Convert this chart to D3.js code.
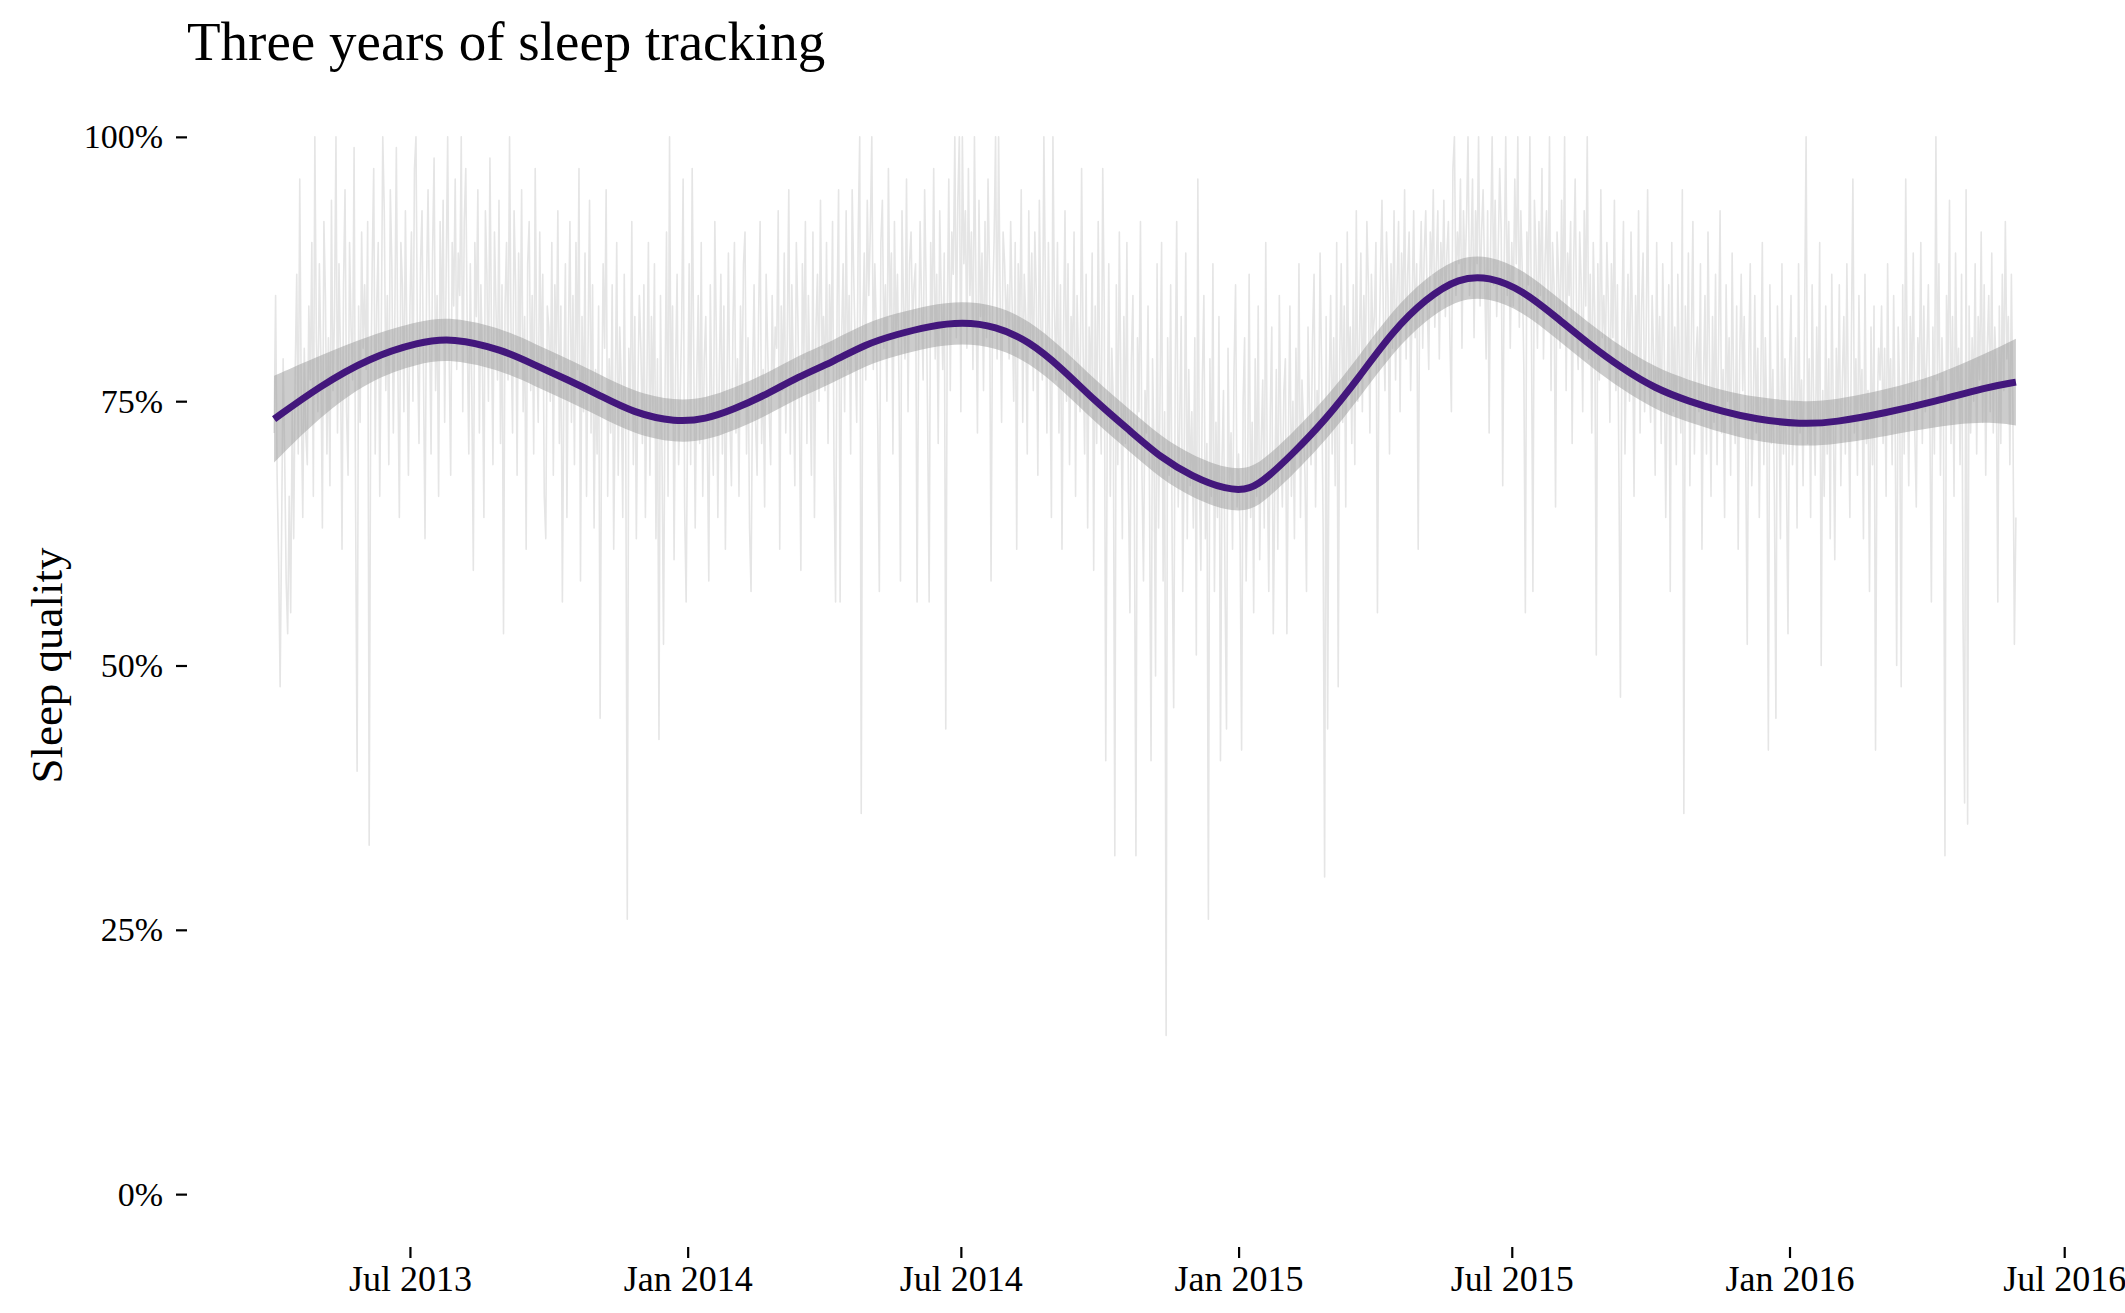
<!DOCTYPE html>
<html>
<head>
<meta charset="utf-8">
<title>Three years of sleep tracking</title>
<script src="https://cdn.jsdelivr.net/npm/d3@7"></script>
<style>
    body { margin: 0; background: #fff; }
    svg { display: block; font-family: "Liberation Serif", "DejaVu Serif", serif; }
</style>
</head>
<body>
<svg id="chart"></svg>
<script>
// nightly sleep quality (%), one value per night, one array per year
const sleep2013Start = '2013-04-02'
const sleep2013 = [
    72, 85, 68, 60, 48, 63, 79, 70, 58, 53, 66, 55, 74, 62, 78, 87, 70, 96, 75, 64, 80, 72, 69, 84, 77, 90, 66, 100, 81, // apr
    74, 88, 79, 63, 92, 85, 70, 81, 67, 94, 76, 83, 100, 72, 88, 79, 61, 86, 95, 74, 68, 90, 82, 77, 99, 65, 40, 84, 73, 91, 80, // may
    86, 78, 92, 33, 75, 88, 97, 70, 84, 90, 66, 81, 100, 93, 76, 85, 69, 95, 88, 72, 83, 99, 78, 64, 90, 86, 74, 93, 81, 68, // jun
    84, 91, 75, 97, 100, 80, 71, 88, 93, 77, 62, 86, 95, 82, 70, 89, 98, 76, 85, 66, 92, 81, 94, 73, 87, 100, 79, 68, 90, 84, 96, // jul
    78, 89, 85, 100, 74, 92, 97, 81, 70, 88, 76, 59, 90, 83, 95, 72, 86, 79, 64, 93, 87, 75, 98, 82, 69, 91, 84, 77, 94, 71, 86, // aug
    53, 84, 90, 77, 100, 81, 72, 93, 86, 68, 89, 79, 95, 74, 83, 61, 88, 92, 76, 85, 70, 97, 80, 73, 91, 78, 87, 66, 62, 84, // sep
    82, 75, 90, 68, 86, 79, 93, 71, 84, 56, 77, 88, 64, 81, 92, 73, 85, 69, 90, 78, 97, 58, 83, 74, 89, 66, 80, 94, 72, 86, 63, // oct
    78, 70, 84, 45, 73, 88, 80, 95, 66, 79, 72, 86, 61, 75, 90, 68, 82, 77, 64, 87, 71, 26, 80, 74, 92, 69, 83, 62, 76, 85, // nov
    80, 71, 86, 64, 77, 90, 68, 83, 74, 88, 62, 79, 43, 85, 70, 52, 76, 91, 66, 100, 73, 84, 60, 78, 87, 69, 75, 82, 96, 65, 56 // dec
]

const sleep2014Start = '2014-01-01'
const sleep2014 = [
    74, 88, 69, 97, 80, 63, 77, 85, 71, 90, 66, 79, 83, 72, 58, 86, 75, 68, 92, 81, 64, 78, 87, 70, 84, 61, 76, 89, 73, 67, 82,
    90, 72, 79, 66, 84, 75, 88, 91, 70, 81, 63, 57, 77, 86, 73, 68, 83, 92, 71, 78, 65, 87, 80, 74, 69, 85, 76, 82,
    80, 93, 61, 84, 76, 89, 72, 81, 95, 70, 86, 78, 67, 90, 83, 74, 59, 88, 79, 92, 71, 85, 77, 68, 91, 64, 82, 87, 75, 94, 80,
    83, 76, 90, 71, 86, 79, 92, 68, 56, 84, 95, 56, 81, 88, 74, 93, 78, 85, 70, 95, 87, 80, 73, 91, 100, 36, 82, 89, 77, 94,
    85, 91, 100, 78, 88, 82, 72, 57, 90, 94, 80, 86, 75, 97, 83, 89, 70, 92, 81, 87, 77, 58, 93, 84, 79, 96, 74, 88, 91, 82, 86,
    88, 56, 80, 92, 84, 77, 95, 86, 73, 56, 90, 82, 97, 79, 87, 71, 93, 85, 78, 89, 44, 83, 96, 76, 91, 87, 100, 81, 94, 100,
    74, 100, 88, 93, 80, 97, 85, 91, 78, 100, 86, 72, 94, 83, 89, 76, 92, 81, 96, 87, 58, 84, 90, 100, 79, 100, 85, 73, 91, 88, 82,
    86, 79, 92, 84, 75, 90, 61, 88, 81, 95, 73, 87, 83, 70, 93, 80, 89, 76, 91, 85, 68, 94, 82, 77, 100, 86, 72, 90, 79, 64, 100,
    84, 77, 90, 72, 86, 61, 81, 93, 75, 88, 69, 83, 79, 91, 66, 85, 78, 74, 97, 80, 70, 87, 63, 82, 76, 89, 59, 84, 71, 92,
    78, 70, 97, 84, 41, 73, 88, 66, 80, 75, 32, 86, 69, 91, 77, 62, 83, 71, 90, 67, 55, 79, 85, 64, 32, 81, 74, 92, 68, 58, 76,
    72, 84, 66, 41, 79, 70, 49, 88, 63, 76, 90, 58, 74, 15, 81, 68, 86, 61, 46, 77, 92, 65, 73, 83, 57, 70, 89, 62, 78, 67,
    74, 63, 81, 51, 96, 68, 59, 77, 85, 62, 71, 26, 79, 66, 88, 57, 73, 64, 83, 41, 69, 76, 58, 44, 80, 67, 72, 61, 78, 86, 65
]

const sleep2015Start = '2015-01-01'
const sleep2015 = [
    70, 62, 42, 75, 81, 58, 68, 87, 64, 73, 55, 79, 66, 84, 60, 71, 77, 63, 90, 69, 57, 74, 82, 53, 67, 78, 61, 85, 72, 65, 76,
    79, 53, 71, 84, 66, 75, 62, 80, 70, 88, 64, 77, 73, 68, 57, 82, 74, 69, 81, 87, 65, 76, 72, 89, 78, 63, 30, 83,
    44, 76, 85, 70, 81, 67, 90, 48, 79, 88, 73, 84, 65, 91, 77, 82, 71, 86, 69, 93, 75, 80, 89, 74, 85, 78, 92, 86, 72, 87, 81,
    83, 90, 55, 79, 87, 94, 82, 76, 91, 85, 70, 88, 80, 93, 77, 86, 92, 74, 89, 83, 95, 79, 87, 91, 76, 84, 93, 81, 88, 61,
    86, 92, 80, 89, 93, 84, 78, 91, 87, 95, 82, 88, 93, 79, 90, 86, 94, 83, 89, 92, 81, 74, 97, 100, 85, 91, 88, 96, 80, 93, 87,
    92, 100, 85, 89, 96, 81, 93, 88, 100, 84, 91, 95, 87, 79, 93, 72, 90, 100, 86, 94, 83, 89, 97, 91, 67, 88, 100, 85, 92, 80,
    90, 84, 96, 88, 100, 82, 93, 87, 78, 55, 91, 86, 100, 83, 57, 94, 89, 80, 92, 85, 97, 79, 88, 93, 84, 100, 76, 90, 86, 65, 91,
    87, 80, 94, 83, 100, 76, 89, 85, 92, 71, 88, 96, 82, 78, 91, 86, 74, 93, 84, 100, 79, 87, 72, 90, 83, 51, 88, 77, 95, 81, 85,
    79, 90, 84, 73, 88, 81, 94, 76, 86, 68, 47, 83, 92, 70, 80, 87, 75, 91, 82, 66, 85, 78, 93, 72, 84, 89, 74, 81, 95, 77,
    73, 85, 79, 68, 90, 76, 83, 71, 88, 80, 64, 77, 86, 57, 90, 74, 82, 69, 87, 78, 72, 95, 36, 84, 75, 89, 67, 81, 92, 70, 79,
    82, 74, 88, 61, 77, 85, 70, 91, 79, 66, 83, 73, 87, 69, 80, 93, 72, 78, 64, 86, 75, 81, 68, 89, 76, 71, 84, 61, 79, 87,
    76, 83, 70, 52, 79, 88, 67, 74, 85, 72, 80, 64, 77, 90, 69, 81, 73, 42, 86, 71, 78, 66, 45, 84, 75, 62, 88, 70, 79, 68, 53
]

const sleep2016Start = '2016-01-01'
const sleep2016 = [
    78, 85, 69, 74, 81, 63, 88, 72, 77, 67, 83, 100, 71, 79, 64, 86, 75, 68, 82, 73, 90, 50, 76, 66, 84, 70, 79, 62, 87, 74, 60,
    80, 73, 86, 67, 77, 83, 70, 88, 75, 64, 81, 96, 72, 79, 68, 85, 74, 78, 62, 87, 71, 76, 57, 82, 69, 84, 42, 73, 80,
    77, 84, 71, 80, 66, 88, 74, 79, 69, 85, 73, 50, 82, 76, 48, 86, 70, 96, 78, 67, 83, 75, 89, 72, 65, 81, 77, 90, 71, 84, 74,
    79, 86, 73, 56, 82, 70, 100, 77, 88, 68, 81, 74, 32, 85, 78, 94, 71, 83, 66, 89, 76, 80, 69, 87, 54, 37, 95, 35, 84, 72,
    81, 75, 88, 70, 83, 77, 91, 73, 86, 68, 80, 85, 74, 89, 72, 82, 78, 56, 84, 71, 87, 76, 92, 79, 83, 69, 87, 74, 52, 64
]

// smoothed trend with its confidence band (days after sleep2013Start)
const fitDay = [0, 30, 63, 96, 118, 151, 173, 195, 215, 238, 266, 286, 304, 326, 347, 370, 392, 412, 434, 456, 478, 500,
    522, 544, 567, 588, 608, 631, 647, 659, 674, 697, 719, 741, 763, 785, 805, 827, 849, 871, 893, 915, 937, 960,
    981, 1012, 1034, 1068, 1101, 1134, 1154]
const fitValue = [73.3, 76.4, 79.1, 80.6, 81.0, 79.9, 78.4, 77.0, 75.6, 73.9, 73.0, 73.3, 74.2, 75.6, 77.3, 78.7, 80.4, 81.3, 82.1, 82.5, 82.1, 80.7,
    78.1, 75.0, 72.2, 69.6, 67.9, 66.6, 66.6, 67.9, 69.9, 73.3, 77.3, 81.6, 84.7, 86.7, 86.8, 85.5, 83.0, 80.4, 78.1, 76.2, 75.0, 74.0,
    73.3, 72.8, 73.0, 73.9, 75.0, 76.3, 76.8]
const fitLower = [69.2, 73.5, 77.0, 78.6, 79.0, 77.9, 76.4, 75.0, 73.6, 71.9, 71.0, 71.3, 72.2, 73.6, 75.3, 76.7, 78.4, 79.3, 80.1, 80.5, 80.1, 78.7,
    76.1, 73.0, 70.2, 67.6, 65.9, 64.6, 64.6, 65.9, 67.9, 71.3, 75.3, 79.6, 82.7, 84.7, 84.8, 83.5, 81.0, 78.4, 76.1, 74.2, 73.0, 72.0,
    71.2, 70.7, 70.9, 71.7, 72.6, 73.1, 72.7]
const fitUpper = [77.4, 79.3, 81.2, 82.6, 83.0, 81.9, 80.4, 79.0, 77.6, 75.9, 75.0, 75.3, 76.2, 77.6, 79.3, 80.7, 82.4, 83.3, 84.1, 84.5, 84.1, 82.7,
    80.1, 77.0, 74.2, 71.6, 69.9, 68.6, 68.6, 69.9, 71.9, 75.3, 79.3, 83.6, 86.7, 88.7, 88.8, 87.5, 85.0, 82.4, 80.1, 78.2, 77.0, 76.0,
    75.4, 74.9, 75.1, 76.1, 77.4, 79.5, 80.9]

const yTicks = [0, 25, 50, 75, 100]
const xTicks = ['2013-07-01', '2014-01-01', '2014-07-01', '2015-01-01', '2015-07-01', '2016-01-01', '2016-07-01']

const width = 2125
const height = 1313
const panel = {left: 187, right: 2103, top: 84, bottom: 1247}

const parse = d3.utcParse('%Y-%m-%d')

function daily(start, values) {
    const s = parse(start)
    return values.map((v, i) => ({date: d3.utcDay.offset(s, i), value: v}))
}

const nights = [].concat(
    daily(sleep2013Start, sleep2013),
    daily(sleep2014Start, sleep2014),
    daily(sleep2015Start, sleep2015),
    daily(sleep2016Start, sleep2016)
)

const fit = fitDay.map((d, i) => ({
    date: d3.utcDay.offset(parse(sleep2013Start), d),
    value: fitValue[i],
    lo: fitLower[i],
    hi: fitUpper[i]
}))

// ggplot style 5% expansion on the time axis
const ext = d3.extent(nights, d => d.date)
const pad = (ext[1] - ext[0]) * 0.05
const x = d3.scaleUtc()
    .domain([new Date(+ext[0] - pad), new Date(+ext[1] + pad)])
    .range([panel.left, panel.right])

const y = d3.scaleLinear()
    .domain([-5, 105])
    .range([panel.bottom, panel.top])

const svg = d3.select('#chart')
    .attr('width', width)
    .attr('height', height)

svg.append('rect')
    .attr('width', width)
    .attr('height', height)
    .attr('fill', '#fff')

// raw nightly values
svg.append('path')
    .datum(nights)
    .attr('fill', 'none')
    .attr('stroke', '#e5e5e5')
    .attr('stroke-width', 1.6)
    .attr('stroke-linejoin', 'round')
    .attr('d', d3.line()
        .x(d => x(d.date))
        .y(d => y(d.value)))

// confidence band
svg.append('path')
    .datum(fit)
    .attr('fill', '#999')
    .attr('fill-opacity', 0.5)
    .attr('d', d3.area()
        .curve(d3.curveBasis)
        .x(d => x(d.date))
        .y0(d => y(d.lo))
        .y1(d => y(d.hi)))

// trend
svg.append('path')
    .datum(fit)
    .attr('fill', 'none')
    .attr('stroke', '#43177c')
    .attr('stroke-width', 7)
    .attr('d', d3.line()
        .curve(d3.curveBasis)
        .x(d => x(d.date))
        .y(d => y(d.value)))

const yAxis = svg.append('g')
    .attr('transform', `translate(${panel.left},0)`)
    .call(d3.axisLeft(y)
        .tickValues(yTicks)
        .tickFormat(d => d + '%')
        .tickSize(11)
        .tickPadding(13))

const xAxis = svg.append('g')
    .attr('transform', `translate(0,${panel.bottom})`)
    .call(d3.axisBottom(x)
        .tickValues(xTicks.map(parse))
        .tickFormat(d3.utcFormat('%b %Y'))
        .tickSize(11)
        .tickPadding(7))

for (const axis of [yAxis, xAxis]) {
    axis.select('.domain').remove()
    axis.selectAll('line').attr('stroke', '#000').attr('stroke-width', 2.2)
    axis.selectAll('text')
        .attr('fill', '#000')
        .style('font-family', '"Liberation Serif", serif')
}
yAxis.selectAll('text').style('font-size', '34px')
xAxis.selectAll('text').style('font-size', '36px')

svg.append('text')
    .attr('x', panel.left)
    .attr('y', 60)
    .style('font-size', '55px')
    .attr('fill', '#000')
    .text('Three years of sleep tracking')

svg.append('text')
    .attr('transform', `translate(62,${(y(0) + y(100)) / 2}) rotate(-90)`)
    .attr('text-anchor', 'middle')
    .style('font-size', '45px')
    .attr('fill', '#000')
    .text('Sleep quality')
</script>
</body>
</html>
